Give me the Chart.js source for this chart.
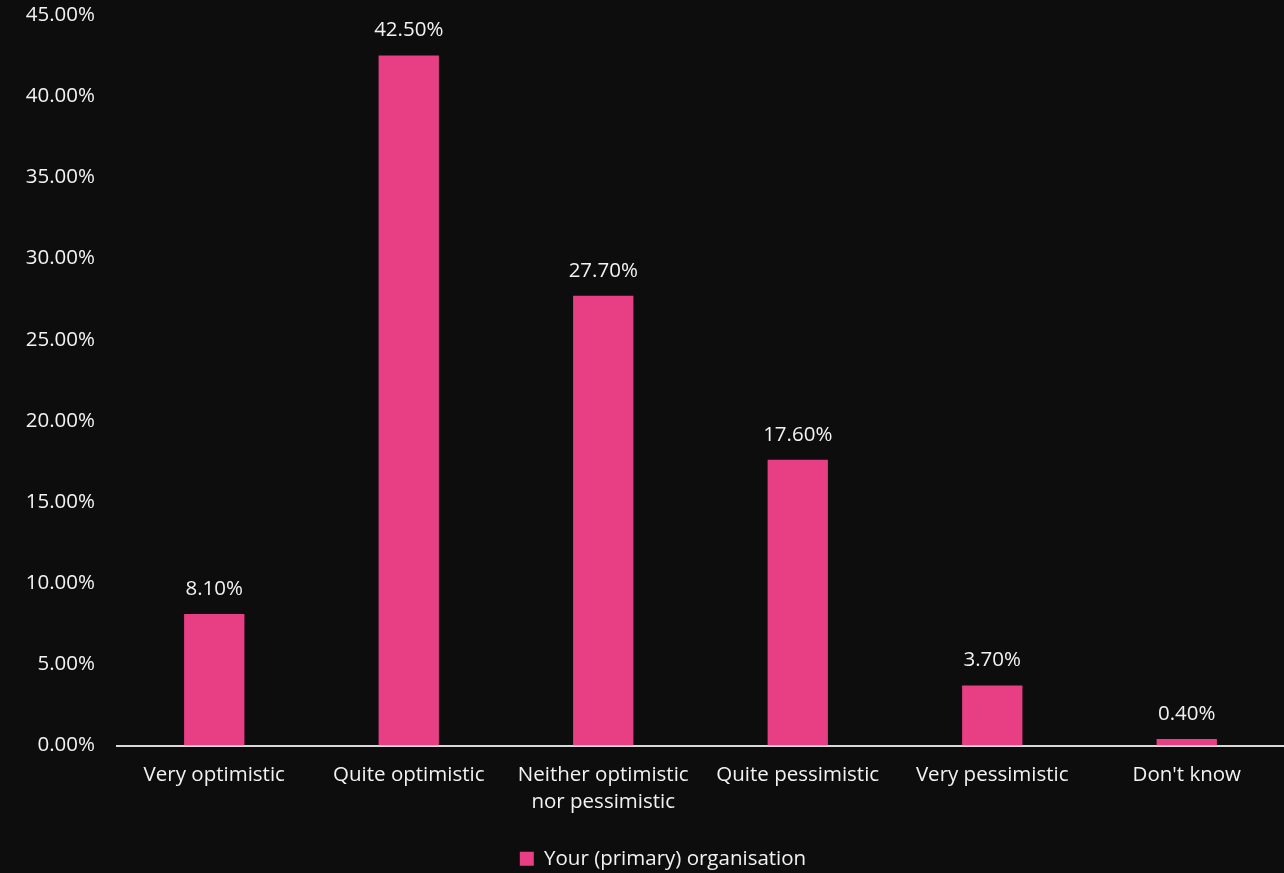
<!DOCTYPE html>
<html>
<head>
<meta charset="utf-8">
<script src="https://cdn.jsdelivr.net/npm/chart.js@4"></script>
<style>
  html, body { margin: 0; padding: 0; background: #0d0d0d; }
  #wrap { width: 1284px; height: 873px; }
</style>
</head>
<body>
<div id="wrap"><canvas id="outlookChart"></canvas></div>
<script>
// Outlook for the organisation
const categories = [
    'Very optimistic',
    'Quite optimistic',
    ['Neither optimistic', 'nor pessimistic'],
    'Quite pessimistic',
    'Very pessimistic',
    "Don't know"
];
const shares = [8.1, 42.5, 27.7, 17.6, 3.7, 0.4];
const seriesName = 'Your (primary) organisation';
const yMax = 45;
const yStep = 5;

const textColor = '#f2f2f2';
const barColor = '#e83e84';
const fontFamily = "'Open Sans', 'Noto Sans', sans-serif";
const fontSize = 20.5;

// Value labels above each bar
const valueLabels = {
    id: 'valueLabels',
    afterDatasetsDraw(chart) {
        const ctx = chart.ctx;
        const meta = chart.getDatasetMeta(0);
        ctx.save();
        ctx.fillStyle = textColor;
        ctx.font = fontSize + 'px ' + fontFamily;
        ctx.textAlign = 'center';
        ctx.textBaseline = 'middle';
        meta.data.forEach(function(bar, i) {
            ctx.fillText(shares[i].toFixed(2) + '%', bar.x, bar.y - 25);
        });
        ctx.restore();
    }
};

// Nudge the legend a little right of the canvas centre
const legendShift = {
    id: 'legendShift',
    afterLayout(chart) {
        if (chart.legend) {
            chart.legend.left += 21;
            chart.legend.right += 21;
        }
    }
};

const ctx = document.getElementById('outlookChart').getContext('2d');
new Chart(ctx, {
    type: 'bar',
    data: {
        labels: categories,
        datasets: [{
            label: seriesName,
            data: shares,
            backgroundColor: barColor,
            borderWidth: 0,
            categoryPercentage: 1,
            barPercentage: 0.31
        }]
    },
    options: {
        responsive: true,
        maintainAspectRatio: false,
        animation: false,
        layout: {
            padding: { top: 0, right: 0, bottom: -6, left: 0 }
        },
        plugins: {
            legend: {
                position: 'bottom',
                labels: {
                    color: textColor,
                    font: { family: fontFamily, size: fontSize },
                    boxWidth: 14,
                    boxHeight: 14,
                    padding: 6
                }
            },
            tooltip: { enabled: false }
        },
        scales: {
            x: {
                grid: { display: false, drawTicks: false },
                border: { display: true, color: '#d9d9d9', width: 2 },
                ticks: {
                    color: textColor,
                    font: { family: fontFamily, size: fontSize, lineHeight: 1.32 },
                    padding: 16,
                    maxRotation: 0,
                    autoSkip: false
                },
                afterFit: function(scale) { scale.height = 97; }
            },
            y: {
                min: 0,
                max: yMax,
                grid: { display: false, drawTicks: false },
                border: { display: false },
                ticks: {
                    stepSize: yStep,
                    color: textColor,
                    font: { family: fontFamily, size: fontSize },
                    padding: 22,
                    callback: function(value) {
                        return value.toFixed(2) + '%';
                    }
                },
                afterFit: function(scale) {
                    scale.width = 117;
                    scale.paddingTop = 15;
                    scale.paddingBottom = 0;
                }
            }
        }
    },
    plugins: [valueLabels, legendShift]
});
</script>
</body>
</html>
